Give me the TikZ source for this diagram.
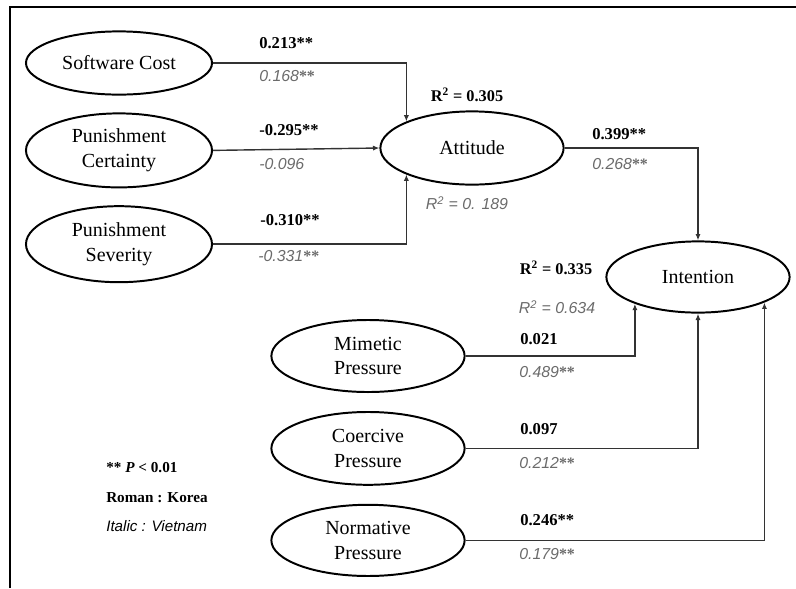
\documentclass[tikz,border=0pt]{standalone}
\usepackage{fontspec}
\setmainfont{Liberation Serif}
\setsansfont{Liberation Sans}
\usepackage{tikz}
\usetikzlibrary{shapes.geometric,arrows.meta,positioning}
\definecolor{vngray}{gray}{0.42}
\newcommand{\twostar}{\textrm{\upshape\bfseries **}}
\tikzset{
    construct/.style={ellipse, draw, line width=1.4pt, minimum width=4.65cm, minimum height=1.85cm, align=center, inner sep=0pt, font=\fontsize{14.2}{17.7}\selectfont},
    link/.style={-{Latex[length=1.6mm, width=1.3mm]}, line width=1pt, draw=black!80},
    kor/.style={anchor=west, inner sep=0pt, font=\fontsize{11.8}{14}\selectfont\bfseries},
    vn/.style={anchor=west, inner sep=0pt, text=vngray, font=\fontsize{11.3}{14}\selectfont\sffamily\itshape},
    rsq/.style={inner sep=0pt, font=\fontsize{11.6}{14}\selectfont\bfseries},
    rsqvn/.style={inner sep=0pt, text=vngray, font=\fontsize{11.3}{14}\selectfont\sffamily\itshape},
    legend/.style={anchor=west, inner sep=0pt, font=\fontsize{10.8}{13}\selectfont\bfseries},
}

\begin{document}
\begin{tikzpicture}[x=0.025cm, y=-0.025cm, node distance=0.42cm]
    \useasboundingbox (0,0) rectangle (796,588);
    \draw[line width=2pt] (10,588) |- (796,7);

    % antecedents of attitude
    \node[construct, minimum height=1.58cm] (cost) at (119,63) {Software Cost};
    \node[construct, below=of cost] (cert) {Punishment\\Certainty};
    \node[construct, minimum height=1.9cm, below=of cert] (sev) {Punishment\\Severity};

    % attitude and intention
    \node[construct, minimum width=4.58cm, minimum height=1.83cm] (att) at (472,148) {Attitude};
    \node[construct, minimum width=4.58cm, minimum height=1.78cm] (int) at (698,277) {Intention};

    % institutional pressures
    \node[construct, minimum width=4.83cm, minimum height=1.8cm] (mim) at (368,356) {Mimetic\\Pressure};
    \node[construct, minimum width=4.83cm, minimum height=1.82cm, below=0.45cm of mim] (coer) {Coercive\\Pressure};
    \node[construct, minimum width=4.83cm, minimum height=1.78cm, below=0.45cm of coer] (norm) {Normative\\Pressure};

    \draw[link] (cost.east) -| (att.158);
    \draw[link] (cert.east) -- (att.west);
    \draw[link] (sev.east) -| (att.202);
    \draw[link] (att.east) -| (int.north);
    \draw[link] (mim.east) -| (int.203);
    \draw[link] (coer.east) -| (int.south);
    \draw[link] (norm.east) -| (int.339);

    % path coefficients
    \node[kor] (costK) at (259,43) {0.213**};
    \node[vn] (costV) at (259,76) {0.168\twostar};
    \node[kor] (certK) at (259,130) {-0.295**};
    \node[vn] (certV) at (259,164) {-0.096};
    \node[kor] (sevK) at (260,220) {-0.310**};
    \node[vn] (sevV) at (258,256) {-0.331\twostar};
    \node[kor] (attK) at (592,134) {0.399**};
    \node[vn] (attV) at (592,164) {0.268\twostar};
    \node[kor] (mimK) at (520,339) {0.021};
    \node[vn] (mimV) at (519,372) {0.489\twostar};
    \node[kor] (coerK) at (520,429) {0.097};
    \node[vn] (coerV) at (519,463) {0.212\twostar};
    \node[kor] (normK) at (520,520) {0.246**};
    \node[vn] (normV) at (519,554) {0.179\twostar};

    % explained variance
    \node[rsq] (attR) at (467,95) {R\textsuperscript{2} = 0.305};
    \node[rsqvn] (attRv) at (467,203) {R\textsuperscript{2} = 0. 189};
    \node[rsq] (intR) at (556,268) {R\textsuperscript{2} = 0.335};
    \node[rsqvn] (intRv) at (557,307) {R\textsuperscript{2} = 0.634};

    % legend
    \node[legend] (sigNote) at (106,468) {** \textit{P} < 0.01};
    \node[legend] (korNote) at (106,498) {Roman : Korea};
    \node[legend, font=\fontsize{10.8}{13}\selectfont\sffamily\itshape] (vnNote) at (106,526) {Italic : Vietnam};
\end{tikzpicture}
\end{document}
